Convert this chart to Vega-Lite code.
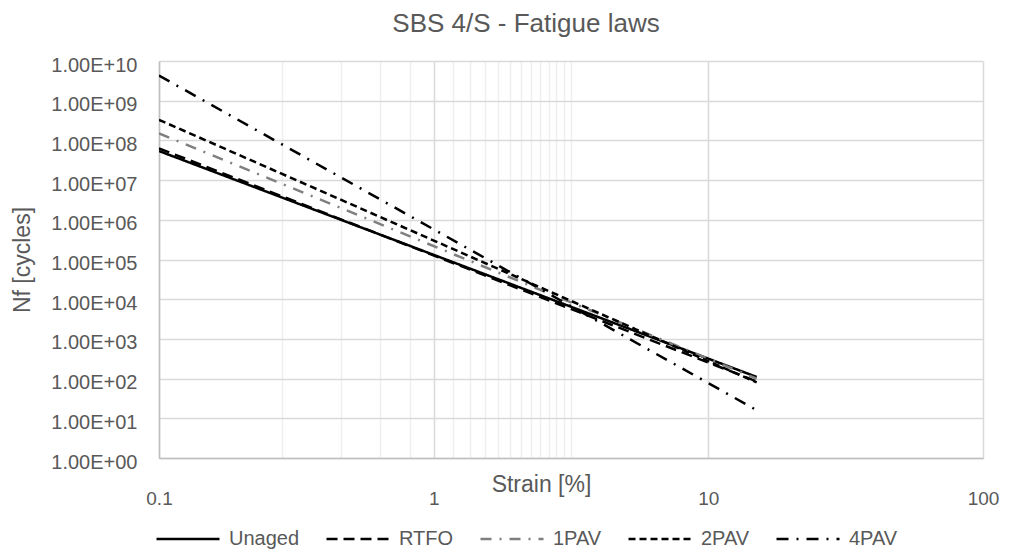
{
  "$schema": "https://vega.github.io/schema/vega-lite/v6.json",
  "width": 824,
  "height": 397,
  "autosize": {"type": "none"},
  "padding": {"left": 159, "top": 61, "right": 28, "bottom": 91},
  "background": "white",
  "title": {
    "text": "SBS 4/S - Fatigue laws",
    "font": "Liberation Sans",
    "fontSize": 26,
    "fontWeight": "normal",
    "color": "#595959",
    "anchor": "middle",
    "frame": "group",
    "dx": -45,
    "offset": 18
  },
  "data": {
    "values": [
      {"series": "Unaged", "strain": 0.1, "nf": 54000000},
      {"series": "Unaged", "strain": 15, "nf": 110},
      {"series": "RTFO", "strain": 0.1, "nf": 63000000},
      {"series": "RTFO", "strain": 15, "nf": 85},
      {"series": "1PAV", "strain": 0.1, "nf": 150000000},
      {"series": "1PAV", "strain": 15, "nf": 100},
      {"series": "2PAV", "strain": 0.1, "nf": 330000000},
      {"series": "2PAV", "strain": 15, "nf": 80},
      {"series": "4PAV", "strain": 0.1, "nf": 4300000000},
      {"series": "4PAV", "strain": 15, "nf": 16}
    ]
  },
  "mark": {"type": "line", "strokeWidth": 2.5, "clip": true},
  "encoding": {
    "x": {
      "field": "strain",
      "type": "quantitative",
      "scale": {"type": "log", "domain": [0.1, 100], "nice": false},
      "axis": {
        "values": [0.1, 0.28, 0.46, 0.64, 0.82, 1, 1.18, 1.36, 1.54, 1.72, 1.9, 2.08, 2.26, 2.44, 2.62, 2.8, 2.98, 3.16, 10, 100],
        "labelExpr": "(datum.value == 0.1 || datum.value == 1 || datum.value == 10 || datum.value == 100) ? datum.label : ''",
        "format": ".1~f",
        "labelOverlap": false,
        "labelFlush": false,
        "labelPadding": 31,
        "labelFontSize": 19,
        "ticks": false,
        "grid": true,
        "gridColor": {"condition": {"test": "datum.value == 0.1 || datum.value == 1 || datum.value == 10 || datum.value == 100", "value": "#d9d9d9"}, "value": "#efefef"},
        "gridWidth": 1.5,
        "domainColor": "#bfbfbf",
        "domainWidth": 1.5,
        "title": "Strain [%]",
        "titleX": 382,
        "titleY": 15,
        "titleAlign": "center",
        "titleBaseline": "top",
        "titleFontSize": 23
      }
    },
    "y": {
      "field": "nf",
      "type": "quantitative",
      "scale": {"type": "log", "domain": [1, 10000000000], "nice": false},
      "axis": {
        "values": [1, 10, 100, 1000, 10000, 100000, 1000000, 10000000, 100000000, 1000000000, 10000000000],
        "labelExpr": "'1.00E+' + (round(log(datum.value)/LN10) < 10 ? '0' : '') + round(log(datum.value)/LN10)",
        "labelOverlap": false,
        "labelFlush": false,
        "labelPadding": 22,
        "labelOffset": 4,
        "labelFontSize": 20,
        "ticks": false,
        "grid": true,
        "gridColor": "#d9d9d9",
        "gridWidth": 1.5,
        "domainColor": "#bfbfbf",
        "domainWidth": 1.5,
        "title": "Nf [cycles]",
        "titleFontSize": 23,
        "titlePadding": 16
      }
    },
    "color": {
      "field": "series",
      "type": "nominal",
      "scale": {"domain": ["Unaged", "RTFO", "1PAV", "2PAV", "4PAV"], "range": ["#000000", "#000000", "#7f7f7f", "#000000", "#000000"]}
    },
    "strokeDash": {
      "field": "series",
      "type": "nominal",
      "scale": {"domain": ["Unaged", "RTFO", "1PAV", "2PAV", "4PAV"], "range": [[1, 0], [11, 6], [11, 8, 2, 8], [7, 4], [12, 8, 2, 8]]}
    }
  },
  "config": {
    "view": {"stroke": null},
    "font": "Liberation Sans",
    "axis": {
      "labelFont": "Liberation Sans",
      "labelColor": "#595959",
      "titleFont": "Liberation Sans",
      "titleColor": "#595959",
      "titleFontWeight": "normal"
    },
    "legend": {
      "orient": "none",
      "legendX": -4,
      "legendY": 445,
      "direction": "horizontal",
      "title": null,
      "symbolType": "stroke",
      "symbolSize": 3969,
      "symbolStrokeWidth": 2.5,
      "labelFont": "Liberation Sans",
      "labelFontSize": 20,
      "labelColor": "#595959",
      "labelOffset": 8,
      "columnPadding": 21,
      "padding": 0
    }
  }
}
